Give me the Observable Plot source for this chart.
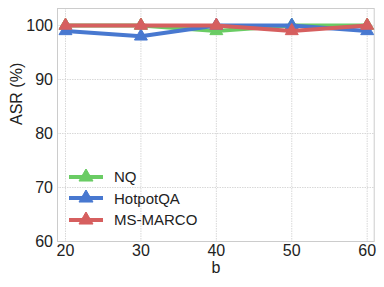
<!DOCTYPE html>
<html>
<head>
<meta charset="utf-8">
<script src="https://cdn.jsdelivr.net/npm/d3@7"></script>
<script src="https://cdn.jsdelivr.net/npm/@observablehq/plot@0.6"></script>
<style>
  html, body { margin: 0; padding: 0; background: #fff; }
  #wrap { position: relative; width: 384px; height: 287px; font-family: "Liberation Sans", Arial, sans-serif; }
  #legend { position: absolute; left: 69px; top: 166px; font-size: 15px; color: #222; }
  .row { display: flex; align-items: center; height: 21.5px; }
  .row svg { margin-right: 11px; }
</style>
</head>
<body>
<div id="wrap"></div>
<script>
const bValues = [20, 30, 40, 50, 60];
const seriesNames = ["NQ", "HotpotQA", "MS-MARCO"];
const nqValues = [100, 100, 99, 100, 100];
const hotpotValues = [99, 98, 100, 100, 99];
const msmarcoValues = [100, 100, 100, 99, 100];
const seriesColors = ["#6acc64", "#4878d0", "#d65f5f"];
const yTicks = [60, 70, 80, 90, 100];

const allValues = [nqValues, hotpotValues, msmarcoValues];
const marks = [
  Plot.gridX(bValues, {stroke: "#d8d8d8", strokeOpacity: 1, strokeDasharray: "1.5,1"}),
  Plot.gridY(yTicks, {stroke: "#d8d8d8", strokeOpacity: 1, strokeDasharray: "1.5,1"}),
  Plot.frame({stroke: "#cccccc", strokeWidth: 1})
];
allValues.forEach((vals, i) => {
  const rows = bValues.map((b, j) => ({b, v: vals[j]}));
  marks.push(Plot.line(rows, {x: "b", y: "v", stroke: seriesColors[i], strokeWidth: 4, strokeLinejoin: "round", strokeLinecap: "butt"}));
  marks.push(Plot.dot(rows, {x: "b", y: "v", symbol: "triangle", r: 4.8, fill: seriesColors[i], stroke: seriesColors[i], strokeWidth: 1}));
});
marks.push(
  Plot.axisX({ticks: bValues, tickSize: 0, tickPadding: 3.5, fontSize: 16, label: null, tickFormat: d => String(d)}),
  Plot.axisY({ticks: yTicks, tickSize: 0, tickPadding: 4.5, fontSize: 16, label: null}),
  Plot.text(["b"], {frameAnchor: "bottom", dy: 31, fontSize: 16, fill: "#222"}),
  Plot.text(["ASR (%)"], {frameAnchor: "left", dx: -41, rotate: -90, fontSize: 16, fill: "#222"})
);

const chart = Plot.plot({
  width: 384,
  height: 287,
  marginLeft: 57,
  marginRight: 10.3,
  marginTop: 8,
  marginBottom: 46,
  style: {fontFamily: "Liberation Sans, Arial, sans-serif", fontSize: "16px", color: "#222", background: "#fff"},
  x: {domain: [18.94, 60.93]},
  y: {domain: [60, 103.15]},
  marks
});
const wrap = document.getElementById("wrap");
wrap.appendChild(chart);

const legend = document.createElement("div");
legend.id = "legend";
seriesNames.forEach((name, i) => {
  const row = document.createElement("div");
  row.className = "row";
  const sym = d3.symbol(d3.symbolTriangle, Math.PI * 5.2 * 5.2)();
  row.innerHTML = `<svg width="34" height="16"><line x1="0" x2="34" y1="8" y2="8" stroke="${seriesColors[i]}" stroke-width="4"/><path transform="translate(17,8)" d="${sym}" fill="${seriesColors[i]}" stroke="${seriesColors[i]}"/></svg><span>${name}</span>`;
  legend.appendChild(row);
});
wrap.appendChild(legend);
</script>
</body>
</html>
